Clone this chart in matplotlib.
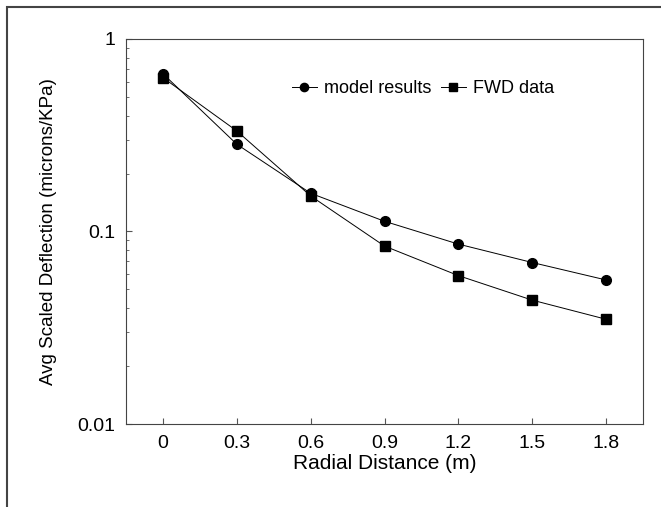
import matplotlib
matplotlib.use('Agg')
import matplotlib.pyplot as plt
from matplotlib.patches import Rectangle

plt.rcParams['font.family'] = ['Liberation Sans', 'DejaVu Sans']

# data
radial = [0, 0.3, 0.6, 0.9, 1.2, 1.5, 1.8]
model_results = [0.66, 0.284, 0.158, 0.113, 0.086, 0.069, 0.056]
fwd_data = [0.63, 0.333, 0.153, 0.084, 0.059, 0.044, 0.035]
xticks = [0, 0.3, 0.6, 0.9, 1.2, 1.5, 1.8]
xtick_labels = ['0', '0.3', '0.6', '0.9', '1.2', '1.5', '1.8']

fig = plt.figure(figsize=(6.61, 5.07), dpi=100)
ax = fig.add_axes([0.1906, 0.1637, 0.7822, 0.7594])

ax.plot(radial, model_results, color='black', lw=0.7, marker='o',
        markersize=7, label='model results')
ax.plot(radial, fwd_data, color='black', lw=0.7, marker='s',
        markersize=7, label='FWD data')

ax.set_yscale('log')
ax.set_ylim(0.01, 1)
ax.set_xlim(-0.15, 1.95)
ax.set_xticks(xticks)
ax.set_xticklabels(xtick_labels)
ax.set_yticks([0.01, 0.1, 1])
ax.set_yticklabels(['0.01', '0.1', '1'])

ax.tick_params(axis='both', which='both', direction='in', labelsize=14,
               top=False, right=False, color='#555555')
ax.tick_params(which='major', length=4, width=0.8, pad=8)
ax.tick_params(which='minor', length=2.5, width=0.6)

for s in ax.spines.values():
    s.set_linewidth(0.8)
    s.set_color('#444444')

ax.set_xlabel('Radial Distance (m)', fontsize=15, labelpad=1)
ax.set_ylabel('Avg Scaled Deflection (microns/KPa)', fontsize=13.5, labelpad=14)

ax.legend(loc='upper right', ncol=2, frameon=False, fontsize=13,
          handlelength=1.4, handletextpad=0.4, columnspacing=0.5,
          markerscale=0.85, bbox_to_anchor=(0.86, 0.935))

# outer frame (only left and top visible in the picture)
fig.patches.append(Rectangle((7 / 661, -0.1), 1.2, (507 - 7) / 507 + 0.1,
                             transform=fig.transFigure, fill=False,
                             edgecolor='#444444', lw=1.5))

fig.savefig('out.png', dpi=100)
